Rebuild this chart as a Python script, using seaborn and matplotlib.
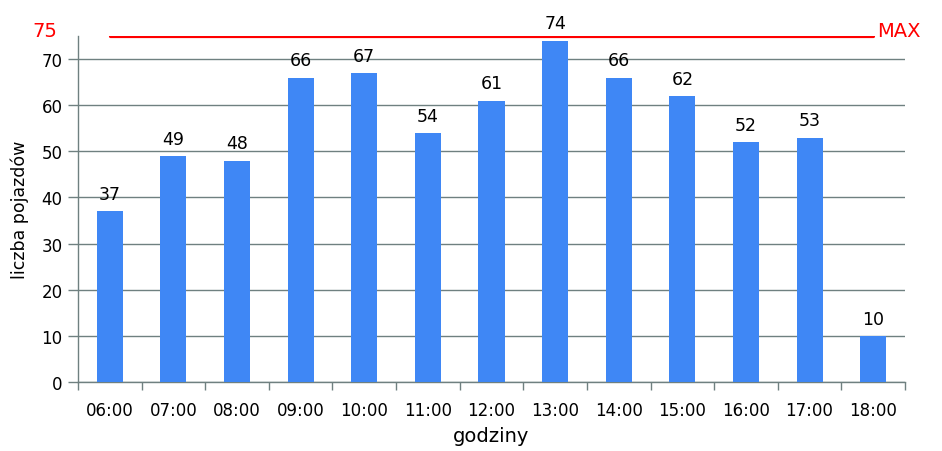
import numpy as np
import pandas as pd
import matplotlib
matplotlib.use("Agg")
import matplotlib.pyplot as plt
import seaborn as sns

hours = ["06:00", "07:00", "08:00", "09:00", "10:00", "11:00", "12:00",
         "13:00", "14:00", "15:00", "16:00", "17:00", "18:00"]
vehicles = [37, 49, 48, 66, 67, 54, 61, 74, 66, 62, 52, 53, 10]
max_value = 75
yticks = [0, 10, 20, 30, 40, 50, 60, 70]

sns.set_theme(style="white")
plt.rcParams['font.family'] = ['DejaVu Sans']
plt.rcParams['text.color'] = 'black'
plt.rcParams['axes.labelcolor'] = 'black'

df = pd.DataFrame({"godzina": hours, "liczba": vehicles})

fig = plt.figure(figsize=(9.42, 4.52), dpi=100)
ax = fig.add_axes([0.0828, 0.1527, 0.8779, 0.7653])

grid_c = "#6F8080"
bar_c = "#3F87F5"

sns.barplot(data=df, x="godzina", y="liczba", color=bar_c, width=0.41,
            saturation=1, linewidth=0, ax=ax, zorder=3)

# max line over category centres
sns.lineplot(x=np.arange(len(hours)), y=[max_value] * len(hours), color="#FF0000",
             linewidth=2.3, ax=ax, zorder=4)

ax.set_ylim(0, max_value)
ax.set_xlim(-0.5, len(hours) - 0.5)
ax.set_yticks(yticks)
ax.yaxis.grid(True, color=grid_c, linewidth=1, zorder=0)
ax.set_axisbelow(True)

for s in ["top", "right"]:
    ax.spines[s].set_visible(False)
for s in ["left", "bottom"]:
    ax.spines[s].set_color(grid_c)
    ax.spines[s].set_linewidth(1)

ax.tick_params(axis="y", which="major", direction="out", length=7, color=grid_c,
               width=1, labelsize=12, labelcolor="black", pad=4, left=True)
ax.set_xticks(range(len(hours)))
ax.set_xticklabels(hours)
ax.set_xticks(np.arange(-0.5, len(hours)), minor=True)
ax.tick_params(axis="x", which="major", length=0, labelsize=12, labelcolor="black", pad=14)
ax.tick_params(axis="x", which="minor", direction="out", length=6, color=grid_c,
               width=1, bottom=True)

for i, v in enumerate(vehicles):
    ax.annotate(str(v), (i, v), xytext=(0, 6), textcoords="offset points",
                ha="center", va="bottom", fontsize=12.5, color="black")

ax.annotate(str(max_value), (-0.5, max_value), xytext=(-15, 4), textcoords="offset points",
            ha="right", va="center", fontsize=14, color="#FF0000",
            annotation_clip=False)
ax.annotate("MAX", (len(hours) - 1, max_value), xytext=(3, 4), textcoords="offset points",
            ha="left", va="center", fontsize=14, color="#FF0000",
            annotation_clip=False)

ax.set_xlabel("godziny", fontsize=14, labelpad=5, color="black")
ax.set_ylabel("liczba pojazdów", fontsize=12.5, labelpad=9, color="black")

fig.savefig("out.png", dpi=100)
